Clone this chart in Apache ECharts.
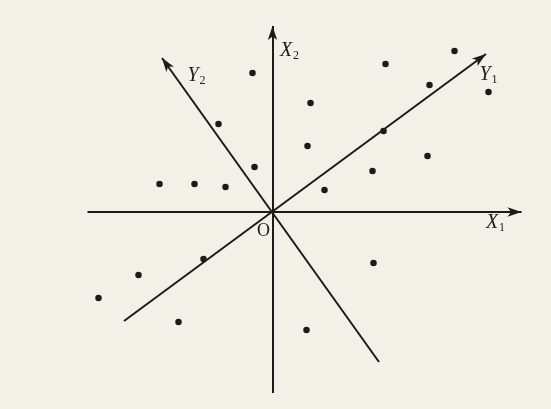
<!DOCTYPE html>
<html>
<head>
<meta charset="utf-8">
<title>Rotated axes Y1, Y2 over X1, X2</title>
<script src="https://cdn.jsdelivr.net/npm/echarts@6/dist/echarts.min.js"></script>
<style>
  html, body { margin: 0; padding: 0; background: #f3f0e7; }
  #chart { width: 551px; height: 409px; }
</style>
</head>
<body>
<div id="chart"></div>
<script>
// Observations in the (X1, X2) plane, origin at O
const x1Values = [-2.0, 11.3, 18.2, 21.6, 15.7, 3.8, -5.4, 11.1, 3.5, 15.5, -1.8,
                  10.0, -11.3, -7.8, -4.7, 5.2, -6.9, -13.4, 10.1, -17.4, 3.4, -9.4];
const x2Values = [13.9, 14.8, 16.1, 12.0, 12.7, 10.9, 8.8, 8.1, 6.6, 5.6, 4.5,
                  4.1, 2.8, 2.8, 2.5, 2.2, -4.7, -6.3, -5.1, -8.6, -11.8, -11.0];

// Axis segments: [start, end], arrow drawn at the end
const axisNames = ['X1', 'X2', 'Y1', 'Y2'];
const axisStarts = [[-18.5, 0], [0, -18.1], [-14.85, -10.9], [10.65, -15.0]];
const axisEnds = [[24.9, 0], [0, 18.6], [21.35, 15.8], [-11.05, 15.4]];

// Axis captions: letter, subscript
const captionLetters = ['X', 'X', 'Y', 'Y', 'O'];
const captionSubs = ['1', '2', '1', '2', ''];
const captionAnchors = [[22.3, -1.1], [1.7, 16.1], [21.6, 13.7], [-7.6, 13.6], [-0.9, -1.9]];

const ink = '#1d1b19';
const chart = echarts.init(document.getElementById('chart'));

const points = x1Values.map((v, i) => [v, x2Values[i]]);

const axisLines = axisNames.map((name, i) => [
  { coord: axisStarts[i], symbol: 'none' },
  { coord: axisEnds[i], symbol: 'arrow' }
]);

const captions = captionLetters.map((c, i) => ({
  value: captionAnchors[i],
  label: {
    formatter: captionSubs[i] ? '{v|' + c + '}{s|' + captionSubs[i] + '}' : '{o|' + c + '}'
  }
}));

chart.setOption({
  backgroundColor: '#f3f0e7',
  animation: false,
  grid: { left: 0, right: 0, top: 0, bottom: 0 },
  xAxis: { type: 'value', min: -27.25, max: 27.85, show: false },
  yAxis: { type: 'value', min: -19.7, max: 21.2, show: false },
  series: [
    {
      type: 'scatter',
      data: points,
      symbol: 'circle',
      symbolSize: 6.5,
      itemStyle: { color: ink, opacity: 1 },
      silent: true,
      markLine: {
        silent: true,
        symbolSize: [7, 14],
        label: { show: false },
        emphasis: { disabled: true },
        lineStyle: { color: ink, width: 2, type: 'solid', opacity: 1 },
        data: axisLines
      }
    },
    {
      type: 'scatter',
      data: captions,
      symbolSize: 0,
      silent: true,
      itemStyle: { opacity: 1 },
      label: {
        show: true,
        position: 'inside',
        color: ink,
        opacity: 1,
        rich: {
          v: { fontFamily: 'Liberation Serif', fontStyle: 'italic', fontSize: 20, color: ink },
          s: { fontFamily: 'Liberation Serif', fontSize: 12, color: ink, padding: [10, 0, 0, 1] },
          o: { fontFamily: 'Liberation Serif', fontSize: 18, color: ink }
        }
      }
    }
  ]
});
</script>
</body>
</html>
